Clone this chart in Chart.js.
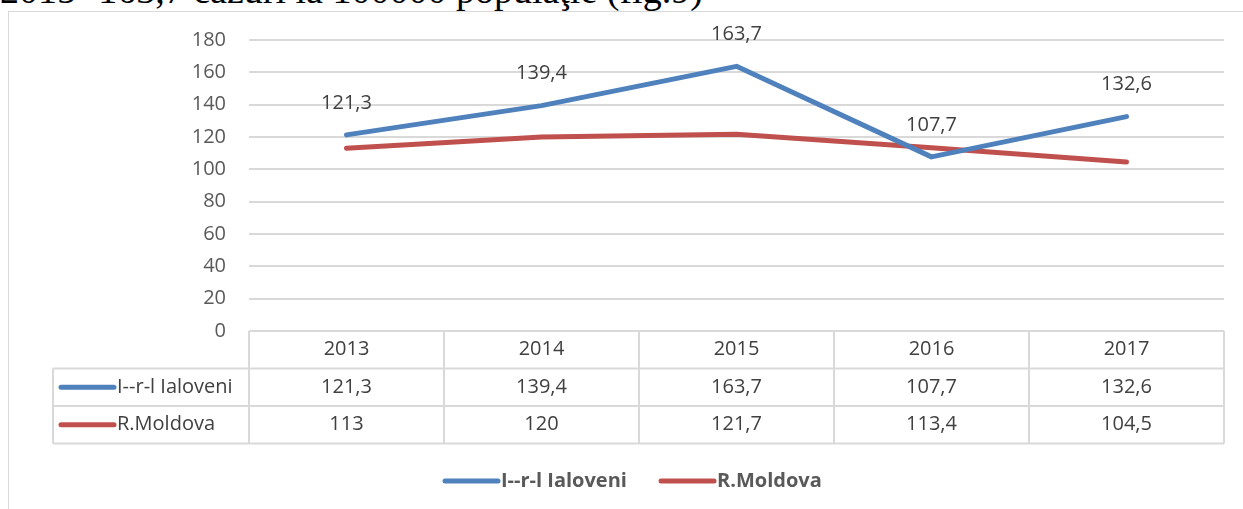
<!DOCTYPE html>
<html>
<head>
<meta charset="utf-8">
<script src="https://cdn.jsdelivr.net/npm/chart.js@4/dist/chart.umd.min.js"></script>
<style>
  html, body { margin: 0; padding: 0; background: #fff; overflow: hidden; }
  body { width: 1243px; height: 509px; position: relative; }
  #caption {
    position: absolute; left: 0; top: -29px; white-space: nowrap;
    font-family: "Liberation Serif", "Times New Roman", serif; font-size: 38px; color: #000;
    line-height: 38px;
  }
  #frame {
    position: absolute; left: 8px; top: 11px; width: 1300px; height: 600px;
    border: 1px solid #d9d9d9; box-sizing: border-box;
  }
  #wrap { position: absolute; left: 0; top: 0; width: 1243px; height: 509px; }
</style>
</head>
<body>
<div id="caption">2015- 163,7 cazuri la 100000 populaţie (fig.9)</div>
<div id="frame"></div>
<div id="wrap"><canvas id="chart"></canvas></div>
<script>
// categorii si valori
const ani = ['2013', '2014', '2015', '2016', '2017'];
const ialoveni = [121.3, 139.4, 163.7, 107.7, 132.6];
const moldova = [113, 120, 121.7, 113.4, 104.5];
const seriiNume = ['I--r-l Ialoveni', 'R.Moldova'];
const yTicks = [0, 20, 40, 60, 80, 100, 120, 140, 160, 180];

const albastru = '#4f81bd';
const rosu = '#c0504d';
const font = "'Open Sans', Lato, sans-serif";

const fmt = v => String(v).replace('.', ',');

// tabel de date + legenda sub grafic
const tabelPlugin = {
  id: 'tabel',
  afterDraw(chart) {
    const ctx = chart.ctx;
    const xs = chart.scales.x;
    const area = chart.chartArea;
    const rowH = 37.5;
    const top = area.bottom;
    const left = 53;
    const colW = (area.right - area.left) / ani.length;

    ctx.save();
    ctx.strokeStyle = '#d9d9d9';
    ctx.lineWidth = 2;
    ctx.beginPath();
    // orizontale
    ctx.moveTo(area.left, top); ctx.lineTo(area.right, top);
    for (let r = 1; r <= 3; r++) {
      ctx.moveTo(left, top + r * rowH); ctx.lineTo(area.right, top + r * rowH);
    }
    // verticale
    for (let c = 0; c <= ani.length; c++) {
      const x = area.left + c * colW;
      ctx.moveTo(x, top); ctx.lineTo(x, top + 3 * rowH);
    }
    ctx.moveTo(left, top + rowH); ctx.lineTo(left, top + 3 * rowH);
    ctx.stroke();

    ctx.font = '20px ' + font;
    ctx.fillStyle = '#404040';
    ctx.textAlign = 'center';
    ctx.textBaseline = 'middle';
    ani.forEach((a, i) => {
      const x = xs.getPixelForValue(i);
      ctx.fillText(a, x, top + rowH * 0.5);
      ctx.fillText(fmt(ialoveni[i]), x, top + rowH * 1.5);
      ctx.fillText(fmt(moldova[i]), x, top + rowH * 2.5);
    });

    // cheile din tabel
    const culori = [albastru, rosu];
    ctx.lineCap = 'round';
    ctx.lineWidth = 5;
    seriiNume.forEach((n, k) => {
      const y = top + rowH * (1.5 + k);
      ctx.strokeStyle = culori[k];
      ctx.beginPath(); ctx.moveTo(61, y); ctx.lineTo(114, y); ctx.stroke();
      ctx.textAlign = 'left';
      ctx.fillStyle = '#404040';
      ctx.fillText(n, 117, y);
    });

    // legenda
    ctx.font = 'bold 20px ' + font;
    ctx.fillStyle = '#595959';
    const legX = [445, 661];
    seriiNume.forEach((n, k) => {
      const y = 481;
      ctx.strokeStyle = culori[k];
      ctx.beginPath(); ctx.moveTo(legX[k], y); ctx.lineTo(legX[k] + 53, y); ctx.stroke();
      ctx.fillText(n, legX[k] + 56, y);
    });
    ctx.restore();
  }
};

// etichete de valoare pentru Ialoveni
const etichetePlugin = {
  id: 'etichete',
  afterDatasetsDraw(chart) {
    const ctx = chart.ctx;
    const meta = chart.getDatasetMeta(0);
    ctx.save();
    ctx.font = '20px ' + font;
    ctx.fillStyle = '#404040';
    ctx.textAlign = 'center';
    ctx.textBaseline = 'middle';
    meta.data.forEach((p, i) => {
      ctx.fillText(fmt(ialoveni[i]), p.x, p.y - 32);
    });
    ctx.restore();
  }
};

new Chart(document.getElementById('chart'), {
  type: 'line',
  data: {
    labels: ani,
    datasets: [
      { label: seriiNume[0], data: ialoveni, borderColor: albastru, borderWidth: 5, pointRadius: 0, tension: 0, borderCapStyle: 'round', borderJoinStyle: 'round' },
      { label: seriiNume[1], data: moldova, borderColor: rosu, borderWidth: 5, pointRadius: 0, tension: 0, borderCapStyle: 'round', borderJoinStyle: 'round' }
    ]
  },
  options: {
    responsive: true,
    maintainAspectRatio: false,
    animation: false,
    layout: { padding: { left: 0, right: 19, top: 40, bottom: 178 } },
    plugins: { legend: { display: false }, tooltip: { enabled: false } },
    scales: {
      x: { display: false, offset: true },
      y: {
        min: 0, max: 180,
        afterFit(scale) { scale.width = 249; },
        afterBuildTicks(scale) { scale.ticks = yTicks.map(v => ({ value: v })); },
        border: { display: false },
        grid: { color: '#d9d9d9', lineWidth: 2, drawTicks: false },
        ticks: { padding: 23, color: '#595959', font: { family: font, size: 20 } }
      }
    }
  },
  plugins: [tabelPlugin, etichetePlugin]
});
</script>
</body>
</html>
